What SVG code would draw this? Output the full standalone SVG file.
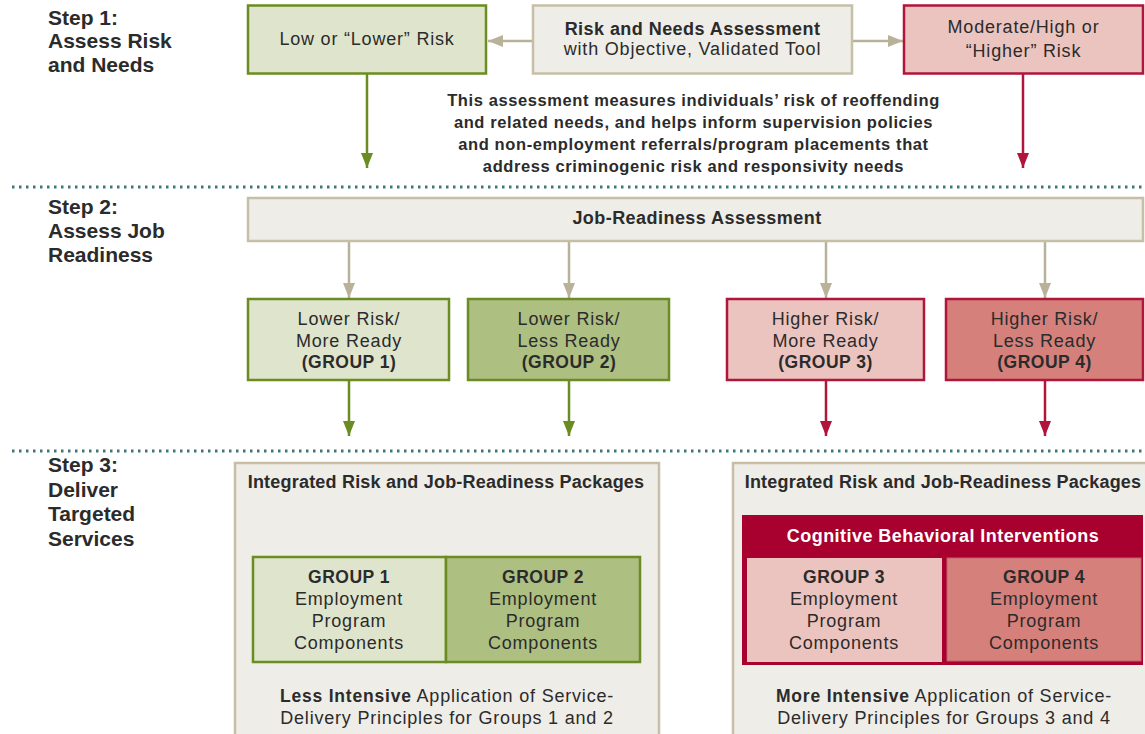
<svg xmlns="http://www.w3.org/2000/svg" width="1145" height="734" viewBox="0 0 1145 734">
<style>
text{font-family:"Liberation Sans",Arial,sans-serif;fill:#2b2b2b}
.step{font-size:21px;font-weight:bold}
.reg{font-size:18px;letter-spacing:0.8px;text-anchor:middle}
.bold{font-size:18px;font-weight:bold;letter-spacing:0.45px;text-anchor:middle}
.pkg{font-size:18px;font-weight:bold;letter-spacing:0.2px;text-anchor:middle}
.desc{font-size:16.5px;font-weight:bold;letter-spacing:0.6px;text-anchor:middle}
.gb{font-size:17.5px;font-weight:bold;letter-spacing:0.5px}
.tan{fill:#efede7;stroke:#c6bfa6;stroke-width:2.5}
.g1{fill:#dfe5cc;stroke:#6a8c22;stroke-width:2.5}
.g2{fill:#aebf82;stroke:#6a8c22;stroke-width:2.5}
.r1{fill:#ebc4c0;stroke:#b0153b;stroke-width:2.5}
.r2{fill:#d5807b;stroke:#b0153b;stroke-width:2.5}
.dots{stroke:#3f7676;stroke-width:3;stroke-dasharray:2.5 4.5}
.at{stroke:#b9b198;stroke-width:2.5;fill:none}
.ag{stroke:#6a8c22;stroke-width:2.5;fill:none}
.ar{stroke:#b0153b;stroke-width:2.5;fill:none}
</style>
<defs>
<marker id="mt" viewBox="0 0 15 12" refX="15" refY="6" markerWidth="15" markerHeight="12" markerUnits="userSpaceOnUse" orient="auto"><path d="M0,0 L15,6 L0,12 z" fill="#b9b198"/></marker>
<marker id="mg" viewBox="0 0 15 12" refX="15" refY="6" markerWidth="15" markerHeight="12" markerUnits="userSpaceOnUse" orient="auto"><path d="M0,0 L15,6 L0,12 z" fill="#6a8c22"/></marker>
<marker id="mr" viewBox="0 0 15 12" refX="15" refY="6" markerWidth="15" markerHeight="12" markerUnits="userSpaceOnUse" orient="auto"><path d="M0,0 L15,6 L0,12 z" fill="#b0153b"/></marker>
</defs>
<rect width="1145" height="734" fill="#ffffff"/>

<g id="separators">
<line class="dots" x1="12" y1="187" x2="1145" y2="187"/>
<line class="dots" x1="12" y1="451" x2="1145" y2="451"/>
</g>

<g id="step-labels">
<text class="step" x="48" y="25">Step 1:</text>
<text class="step" x="48" y="48">Assess Risk</text>
<text class="step" x="48" y="72">and Needs</text>
<text class="step" x="48" y="214">Step 2:</text>
<text class="step" x="48" y="238">Assess Job</text>
<text class="step" x="48" y="262">Readiness</text>
<text class="step" x="48" y="472">Step 3:</text>
<text class="step" x="48" y="497">Deliver</text>
<text class="step" x="48" y="521">Targeted</text>
<text class="step" x="48" y="546">Services</text>
</g>

<g id="connectors">
<line class="at" x1="533" y1="41" x2="488" y2="41" marker-end="url(#mt)"/>
<line class="at" x1="852" y1="41" x2="903" y2="41" marker-end="url(#mt)"/>
<line class="ag" x1="367" y1="74" x2="367" y2="168" marker-end="url(#mg)"/>
<line class="ar" x1="1023" y1="74" x2="1023" y2="168" marker-end="url(#mr)"/>
<line class="at" x1="349" y1="241" x2="349" y2="298" marker-end="url(#mt)"/>
<line class="at" x1="569" y1="241" x2="569" y2="298" marker-end="url(#mt)"/>
<line class="at" x1="826" y1="241" x2="826" y2="298" marker-end="url(#mt)"/>
<line class="at" x1="1045" y1="241" x2="1045" y2="298" marker-end="url(#mt)"/>
<line class="ag" x1="349" y1="381" x2="349" y2="436" marker-end="url(#mg)"/>
<line class="ag" x1="569" y1="381" x2="569" y2="436" marker-end="url(#mg)"/>
<line class="ar" x1="826" y1="381" x2="826" y2="436" marker-end="url(#mr)"/>
<line class="ar" x1="1045" y1="381" x2="1045" y2="436" marker-end="url(#mr)"/>
</g>

<g id="low-risk">
<rect class="g1" x="248" y="5.5" width="238" height="68"/>
<text class="reg" x="367" y="45">Low or “Lower” Risk</text>
</g>

<g id="risk-needs-assessment">
<rect class="tan" x="533" y="5.5" width="319" height="68"/>
<text class="bold" x="692.5" y="35">Risk and Needs Assessment</text>
<text class="reg" x="692.5" y="55">with Objective, Validated Tool</text>
</g>

<g id="higher-risk">
<rect class="r1" x="904" y="5.5" width="239" height="68"/>
<text class="reg" x="1023.5" y="33">Moderate/High or</text>
<text class="reg" x="1023.5" y="57">“Higher” Risk</text>
</g>

<g id="assessment-note">
<text class="desc" x="693.5" y="106">This assessment measures individuals’ risk of reoffending</text>
<text class="desc" x="693.5" y="128">and related needs, and helps inform supervision policies</text>
<text class="desc" x="693.5" y="150">and non-employment referrals/program placements that</text>
<text class="desc" x="693.5" y="172">address criminogenic risk and responsivity needs</text>
</g>

<g id="job-readiness">
<rect class="tan" x="248" y="198" width="895" height="43"/>
<text class="bold" x="697" y="224">Job-Readiness Assessment</text>
</g>

<g id="group1">
<rect class="g1" x="248" y="299" width="201" height="81"/>
<text class="reg" x="349" y="325">Lower Risk/</text>
<text class="reg" x="349" y="347">More Ready</text>
<text class="gb" x="349" y="368" text-anchor="middle">(GROUP 1)</text>
</g>
<g id="group2">
<rect class="g2" x="468" y="299" width="201" height="81"/>
<text class="reg" x="569" y="325">Lower Risk/</text>
<text class="reg" x="569" y="347">Less Ready</text>
<text class="gb" x="569" y="368" text-anchor="middle">(GROUP 2)</text>
</g>
<g id="group3">
<rect class="r1" x="727" y="299" width="197" height="81"/>
<text class="reg" x="825.5" y="325">Higher Risk/</text>
<text class="reg" x="825.5" y="347">More Ready</text>
<text class="gb" x="825.5" y="368" text-anchor="middle">(GROUP 3)</text>
</g>
<g id="group4">
<rect class="r2" x="946" y="299" width="197" height="81"/>
<text class="reg" x="1044.5" y="325">Higher Risk/</text>
<text class="reg" x="1044.5" y="347">Less Ready</text>
<text class="gb" x="1044.5" y="368" text-anchor="middle">(GROUP 4)</text>
</g>

<g id="package-lower">
<rect class="tan" x="235" y="463" width="424" height="280"/>
<text class="pkg" x="446" y="488">Integrated Risk and Job-Readiness Packages</text>
<rect class="g1" x="253" y="557" width="193" height="105"/>
<rect class="g2" x="446" y="557" width="194" height="105"/>
<text class="gb" x="349" y="583" text-anchor="middle">GROUP 1</text>
<text class="reg" x="349" y="605">Employment</text>
<text class="reg" x="349" y="627">Program</text>
<text class="reg" x="349" y="649">Components</text>
<text class="gb" x="543" y="583" text-anchor="middle">GROUP 2</text>
<text class="reg" x="543" y="605">Employment</text>
<text class="reg" x="543" y="627">Program</text>
<text class="reg" x="543" y="649">Components</text>
<text class="reg" x="447" y="702"><tspan font-weight="bold" font-size="17.5">Less Intensive</tspan> Application of Service-</text>
<text class="reg" x="447" y="724">Delivery Principles for Groups 1 and 2</text>
</g>

<g id="package-higher">
<rect class="tan" x="733" y="463" width="424" height="280"/>
<text class="pkg" x="943" y="488">Integrated Risk and Job-Readiness Packages</text>
<rect x="742" y="515" width="401" height="150" fill="#a8002f"/>
<text class="bold" x="943" y="542" style="fill:#ffffff">Cognitive Behavioral Interventions</text>
<rect x="747" y="558" width="195" height="104" fill="#ebc4c0"/>
<rect x="947" y="558" width="194" height="103" fill="#d5807b" stroke="#c2606a" stroke-width="1"/>
<text class="gb" x="844" y="583" text-anchor="middle">GROUP 3</text>
<text class="reg" x="844" y="605">Employment</text>
<text class="reg" x="844" y="627">Program</text>
<text class="reg" x="844" y="649">Components</text>
<text class="gb" x="1044" y="583" text-anchor="middle">GROUP 4</text>
<text class="reg" x="1044" y="605">Employment</text>
<text class="reg" x="1044" y="627">Program</text>
<text class="reg" x="1044" y="649">Components</text>
<text class="reg" x="944" y="702"><tspan font-weight="bold" font-size="17.5">More Intensive</tspan> Application of Service-</text>
<text class="reg" x="944" y="724">Delivery Principles for Groups 3 and 4</text>
</g>
</svg>
